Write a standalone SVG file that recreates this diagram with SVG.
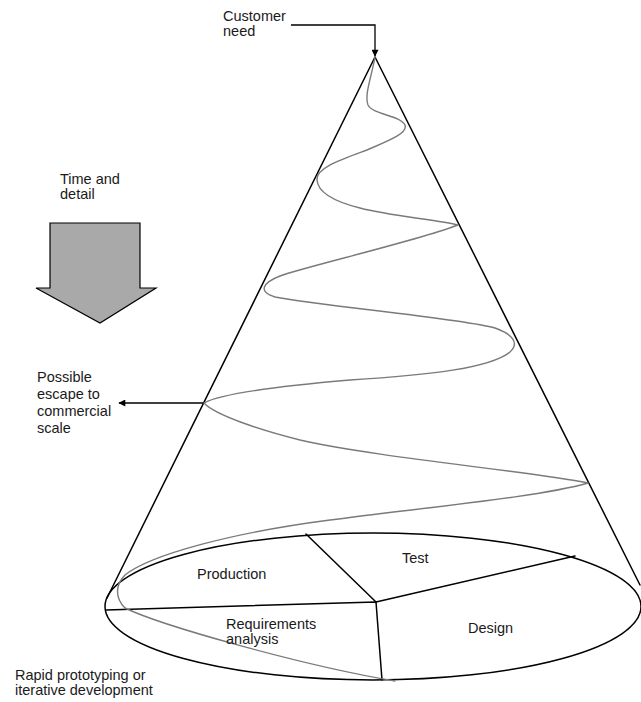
<svg xmlns="http://www.w3.org/2000/svg" width="641" height="702" viewBox="0 0 641 702">
<style>
  .lbl { font-family: "Liberation Sans", Arial, sans-serif; font-size: 14.5px; fill: #1a1a1a; }
  .edge { fill: none; stroke: #000; stroke-width: 1.5; stroke-linecap: round; stroke-linejoin: round; }
  .spiral { fill: none; stroke: #7a7a7a; stroke-width: 1.4; stroke-linecap: round; stroke-linejoin: round; }
  .conn { fill: none; stroke: #000; stroke-width: 1.3; }
</style>
<defs>
  <marker id="ah" viewBox="0 0 10 10" refX="9" refY="5" markerWidth="8" markerHeight="7" markerUnits="userSpaceOnUse" orient="auto">
    <path d="M0,0 L10,5 L0,10 z" fill="#000"/>
  </marker>
</defs>
<rect width="641" height="702" fill="#fff"/>

<g id="cone">
  <path class="edge" d="M107,598 L375,57 L640,585"/>
</g>

<g id="base">
  <ellipse class="edge" cx="373" cy="606.5" rx="268" ry="73.5"/>
  <path class="edge" d="M306,534 L376,602 L575,556"/>
  <path class="edge" d="M106,610 L376,602 L382,680"/>
</g>

<g id="spiral">
  <path class="spiral" d="M375,57 C372,75 364,95 368,105 C373,115 400,115 405,125 C408,133 390,140 367,150 C340,160 316,168 317,180 C318,195 340,203 360,208 C390,216 440,220 458,225 C420,240 300,268 280,276 C262,283 258,292 275,297 C320,306 460,318 495,328 C512,334 520,343 510,352 C490,368 430,375 350,380 C280,386 220,394 204,403 C215,415 260,430 300,440 C380,458 520,470 588,483 C540,497 420,508 330,520 C230,533 150,555 125,575 C115,585 115,598 125,608 C160,625 300,665 395,681"/>
</g>

<g id="time-arrow">
  <polygon points="50,223 140,223 140,288 156,288 100,323 36,288 50,288" fill="#a9a9a9" stroke="#000" stroke-width="1.2" stroke-linejoin="miter"/>
</g>

<g id="connectors">
  <path class="conn" d="M291,25 H375 V56" marker-end="url(#ah)"/>
  <path class="conn" d="M203,403 H119" marker-end="url(#ah)"/>
</g>

<g id="labels">
  <g id="customer-need"><text class="lbl" x="223" y="21">Customer</text><text class="lbl" x="223" y="36">need</text></g>
  <g id="time-detail"><text class="lbl" x="60" y="184">Time and</text><text class="lbl" x="60" y="199">detail</text></g>
  <g id="escape"><text class="lbl" x="37" y="382">Possible</text><text class="lbl" x="37" y="399">escape to</text><text class="lbl" x="37" y="416">commercial</text><text class="lbl" x="37" y="433">scale</text></g>
  <g id="production"><text class="lbl" x="197" y="579">Production</text></g>
  <g id="requirements"><text class="lbl" x="226" y="629">Requirements</text><text class="lbl" x="226" y="644">analysis</text></g>
  <g id="test"><text class="lbl" x="402" y="563">Test</text></g>
  <g id="design"><text class="lbl" x="468" y="633">Design</text></g>
  <g id="rapid"><text class="lbl" x="15" y="680">Rapid prototyping or</text><text class="lbl" x="15" y="695">iterative development</text></g>
</g>
</svg>
